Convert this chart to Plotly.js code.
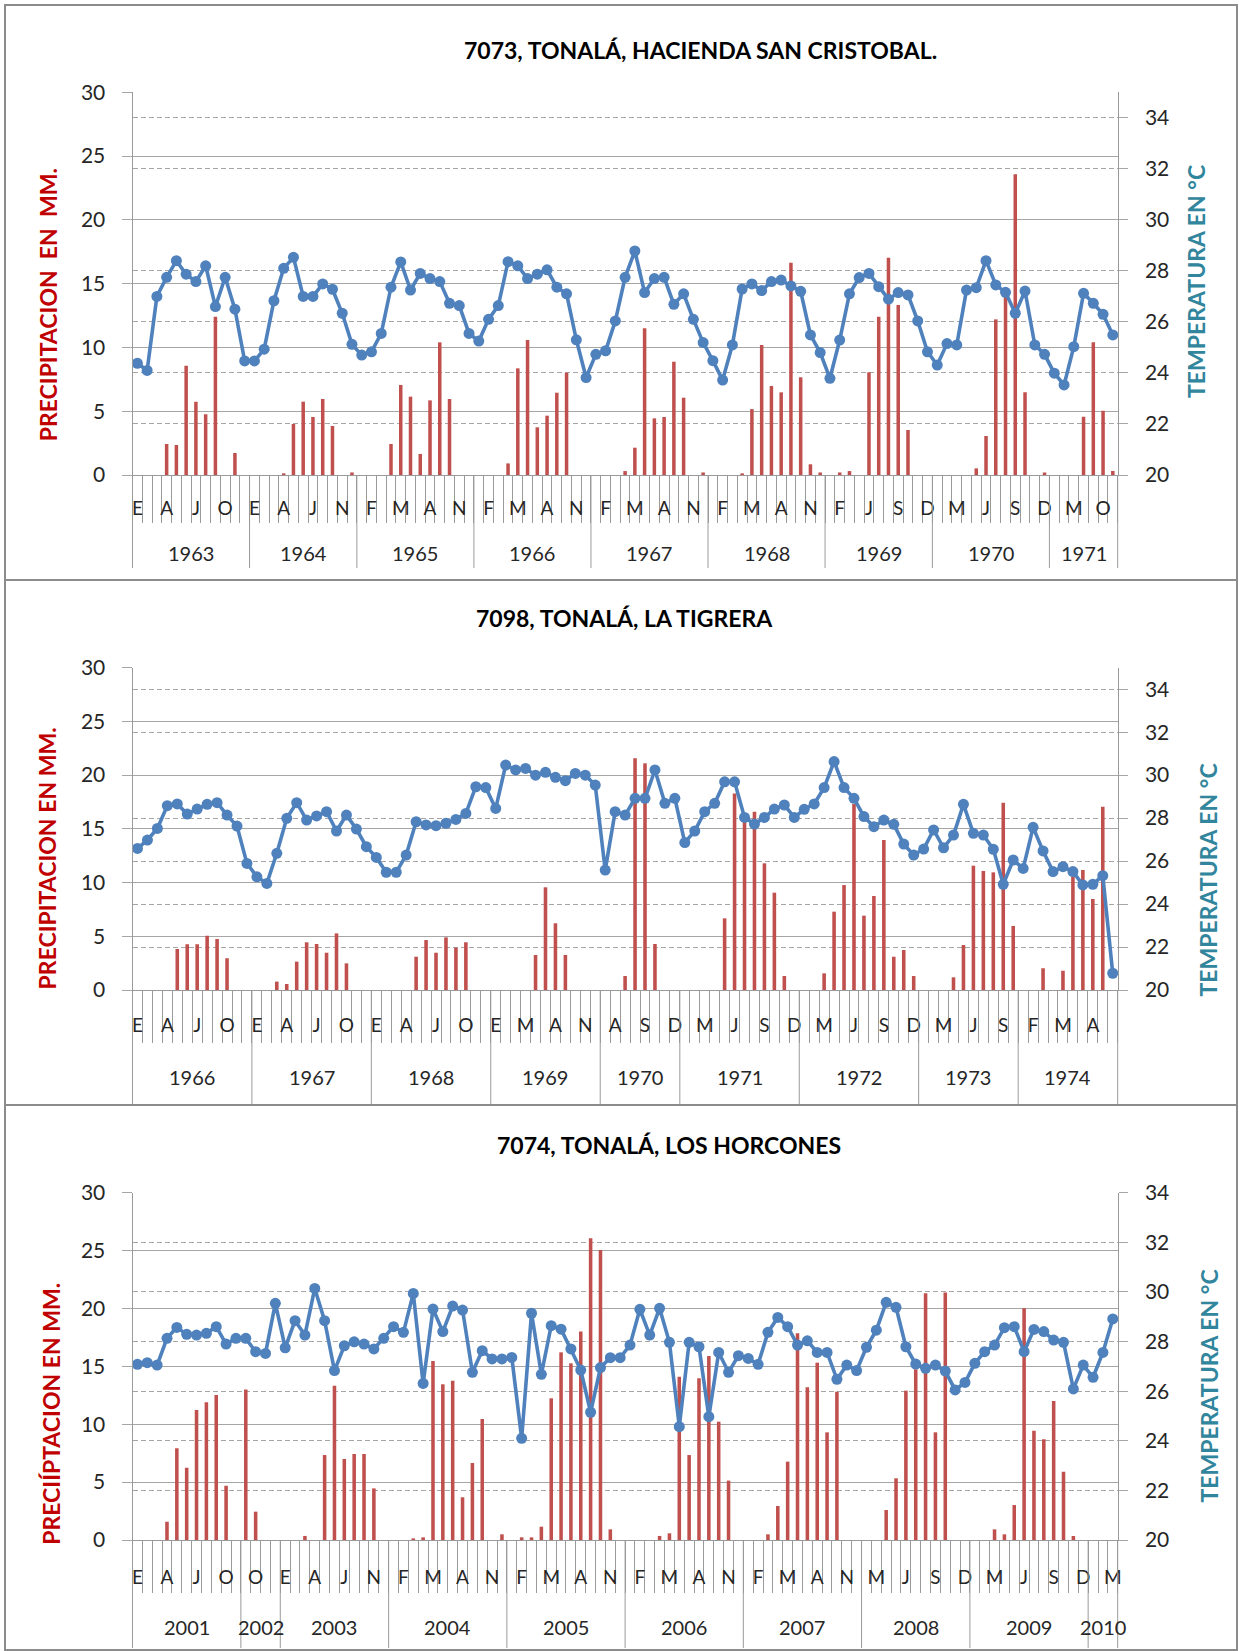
<!DOCTYPE html>
<html><head><meta charset="utf-8">
<script src="https://cdn.plot.ly/plotly-3.0.1.min.js"></script>
<style>html,body{margin:0;padding:0;background:#fff}#chart{width:1239px;height:1651px}</style>
</head><body><div id="chart"></div>
<script>
// ---------- DATA ----------
const MES = ["E","F","M","A","M","J","J","A","S","O","N","D"];
const ALL = [1,2,3,4,5,6,7,8,9,10,11,12];

// Panel 1: 7073 Hacienda San Cristobal
const title1 = "7073, TONALÁ, HACIENDA SAN CRISTOBAL.";
const ylab1 = "PRECIPITACION  EN  MM.";
const years1 = [1963,1964,1965,1966,1967,1968,1969,1970,1971];
const months1 = [ALL,[1,2,3,4,5,6,7,8,9,11,12],ALL,ALL,ALL,ALL,[1,2,3,5,6,7,8,9,10,11,12],ALL,[1,2,3,6,9,10,11]];
const precip1 = [0,0,0,2.43,2.35,8.57,5.75,4.76,12.41,0,1.72,0,
 0,0,0,0.13,4.0,5.75,4.55,5.96,3.84,0,0.2,
 0,0,0,2.43,7.06,6.14,1.65,5.85,10.4,5.96,0,0,
 0,0,0,0.91,8.36,10.58,3.74,4.65,6.45,8.02,0,0,
 0,0,0,0.31,2.14,11.5,4.44,4.55,8.88,6.06,0,0.2,
 0,0,0,0.13,5.17,10.19,6.98,6.48,16.64,7.66,0.84,0.2,
 0,0.2,0.31,0,8.05,12.41,17.04,13.33,3.53,0,0,
 0,0,0,0,0.52,3.06,12.2,14.58,23.57,6.48,0,0.2,
 0,0,0,4.57,10.4,5.04,0.31];
const temp1 = [24.38,24.1,27.0,27.75,28.4,27.87,27.58,28.2,26.6,27.75,26.5,24.47,
 24.47,24.93,26.83,28.1,28.53,27.0,27.0,27.49,27.28,26.34,25.12,
 24.7,24.83,25.55,27.36,28.35,27.25,27.9,27.7,27.58,26.73,26.64,25.55,
 25.25,26.1,26.64,28.36,28.2,27.7,27.87,28.04,27.36,27.1,25.3,23.82,
 24.73,24.87,26.04,27.75,28.78,27.15,27.7,27.75,26.69,27.1,26.1,25.19,
 24.48,23.72,25.1,27.29,27.49,27.23,27.58,27.64,27.41,27.2,25.49,24.8,
 23.79,25.29,27.1,27.74,27.9,27.38,26.89,27.15,27.06,26.04,24.83,
 24.31,25.15,25.1,27.25,27.34,28.4,27.45,27.16,26.34,27.21,25.1,24.73,
 23.99,23.53,25.03,27.12,26.73,26.3,25.49];

// Panel 2: 7098 La Tigrera
const title2 = "7098, TONALÁ, LA TIGRERA";
const ylab2 = "PRECIPITACION EN MM.";
const years2 = [1966,1967,1968,1969,1970,1971,1972,1973,1974];
const months2 = [ALL,ALL,ALL,[1,2,3,5,6,7,8,9,10,11,12],[3,4,7,8,9,10,11,12],ALL,ALL,[1,2,3,4,5,6,7,8,9,10],[1,2,3,4,5,6,7,8,9,10]];
const precip2 = [0,0,0,0,3.82,4.25,4.25,5.06,4.75,2.95,0,0,
 0,0,0.78,0.56,2.64,4.44,4.28,3.47,5.27,2.48,0,0,
 0,0,0,0,3.1,4.65,3.47,4.9,3.94,4.44,0,0,
 0,0,0,0,3.26,9.56,6.21,3.26,0,0,0,
 0,0,1.3,21.56,21.1,4.28,0,0,
 0,0,0,0,6.67,18.3,15.67,16.6,11.79,9.06,1.3,0,
 0,0,1.55,7.29,9.77,17.31,6.92,8.75,13.96,3.1,3.72,1.3,
 0,0,0,1.18,4.19,11.57,11.08,10.95,17.44,5.96,
 0,0,2.02,0,1.8,10.55,11.17,8.47,17.06,0];
const temp2 = [26.59,26.98,27.52,28.58,28.66,28.19,28.42,28.64,28.72,28.14,27.63,25.89,
 25.27,24.96,26.36,27.99,28.72,27.91,28.1,28.3,27.4,28.14,27.49,26.67,
 26.17,25.48,25.48,26.28,27.83,27.68,27.65,27.76,27.94,28.22,29.46,29.42,
 28.45,30.47,30.24,30.31,30.0,30.13,29.9,29.74,30.08,30.0,29.54,
 25.58,28.3,28.14,28.92,28.92,30.24,28.69,28.92,
 26.86,27.4,28.3,28.69,29.69,29.69,28.03,27.72,28.03,28.42,28.61,28.03,
 28.41,28.66,29.42,30.63,29.42,28.92,28.07,27.6,27.91,27.71,26.79,26.28,
 26.56,27.45,26.62,27.21,28.64,27.29,27.21,26.55,24.92,26.05,
 25.66,27.57,26.47,25.51,25.74,25.51,24.89,24.92,25.32,20.78];

// Panel 3: 7074 Los Horcones
const title3 = "7074, TONALÁ, LOS HORCONES";
const ylab3 = "PRECIÍPTACION EN MM.";
const years3 = [2001,2002,2003,2004,2005,2006,2007,2008,2009,2010];
const months3 = [[1,2,3,4,5,6,7,8,9,10,11],[9,10,11,12],[1,2,3,4,5,6,7,8,9,11,12],ALL,ALL,ALL,ALL,[2,3,4,5,6,7,8,9,10,11,12],ALL,[1,2,3]];
const precip3 = [0,0,0,1.58,7.92,6.25,11.23,11.89,12.53,4.69,0,
 13.01,2.45,0,0,
 0,0,0.35,0,7.34,13.33,7.0,7.43,7.43,4.46,0,
 0,0,0.14,0.23,15.46,13.45,13.76,3.69,6.65,10.45,0,0.49,
 0,0.23,0.23,1.15,12.24,16.21,15.26,18.0,26.06,25.05,0.92,0,
 0,0,0,0.35,0.58,14.11,7.34,13.97,15.89,10.22,5.13,0,
 0,0,0.49,2.94,6.77,17.85,13.19,15.32,9.3,12.81,0,0,
 0,0,2.59,5.33,12.9,14.74,21.31,9.3,21.39,0,0,
 0,0,0.92,0.49,3.02,20.01,9.44,8.7,12.0,5.9,0.35,0,
 0,0,0];
const temp3 = [27.08,27.15,27.05,28.13,28.57,28.29,28.26,28.33,28.6,27.9,28.13,
 28.13,27.59,27.52,29.54,
 27.75,28.84,28.26,30.14,28.84,26.83,27.83,27.99,27.9,27.7,28.13,
 28.6,28.37,29.94,26.31,29.31,28.4,29.43,29.27,26.76,27.63,27.3,27.3,
 27.36,24.1,29.14,26.68,28.64,28.5,27.7,26.85,25.15,26.95,27.35,27.35,
 27.86,29.3,28.26,29.34,27.97,24.57,27.97,27.79,24.97,27.56,26.76,27.43,
 27.32,27.08,28.37,28.97,28.6,27.86,28.03,27.56,27.56,26.48,27.05,26.83,
 27.77,28.46,29.58,29.38,27.79,27.09,26.92,27.05,26.81,26.05,26.35,
 27.12,27.59,27.86,28.56,28.6,27.59,28.49,28.4,28.06,27.97,26.09,27.05,
 26.56,27.56,28.91];

const rightLabel = "TEMPERATURA EN °C";

// ---------- LAYOUT GEOMETRY ----------
const FONT = "Lato, 'Open Sans', 'DejaVu Sans', sans-serif";
const W = 1239, H = 1651;
const PX0 = 132.5, PX1 = 1117.7;
const fx = v => v / W;
const fy = v => 1 - v / H;
const GRID = '#a6a6a6', AXL = '#9a9a9a', TXT = '#262626';

const geom = [
 {top:92.3, bot:475, tickLen:47, labStand:16, yearLineEnd:568, yearLabY:553, titleX:700, titleY:50, lTitleX:48.3, lTitleY:305, rTitleX:1196, rTitleY:282, y2max:35},
 {top:667.7, bot:990, tickLen:52, labStand:18, yearLineEnd:1105, yearLabY:1076.7, titleX:624, titleY:618, lTitleX:47.4, lTitleY:858, rTitleX:1207.5, rTitleY:880, y2max:35},
 {top:1192.7, bot:1540, tickLen:52, labStand:20, yearLineEnd:1648, yearLabY:1626.7, titleX:669, titleY:1145, lTitleX:50.8, lTitleY:1414, rTitleX:1208.5, rTitleY:1386, y2max:34}
];

const panels = [
 {title:title1, ylab:ylab1, years:years1, months:months1, precip:precip1, temp:temp1},
 {title:title2, ylab:ylab2, years:years2, months:months2, precip:precip2, temp:temp2},
 {title:title3, ylab:ylab3, years:years3, months:months3, precip:precip3, temp:temp3}
];

const traces = [];
const shapes = [];
const annotations = [];
const layout = {
  width: W, height: H,
  margin: {l:0, r:0, t:0, b:0},
  paper_bgcolor: '#fff', plot_bgcolor: '#fff',
  showlegend: false, bargap: 0.64,
  font: {family: FONT, color: TXT},
  hovermode: false
};

panels.forEach((p, k) => {
  const g = geom[k];
  const xId = k === 0 ? 'x' : 'x' + (k + 1);
  const yL = k === 0 ? 'y' : 'y' + (2 * k + 1);
  const yR = 'y' + (2 * k + 2);
  const xKey = xId.replace('x', 'xaxis');
  const yLKey = yL.replace('y', 'yaxis');
  const yRKey = yR.replace('y', 'yaxis');

  // categories
  const letters = [];
  const groups = [];
  let n = 0;
  p.years.forEach((yr, j) => {
    const start = n;
    p.months[j].forEach(m => { letters.push(MES[m - 1]); n++; });
    groups.push({year: yr, start: start, end: n - 1});
  });
  const idx = letters.map((_, i) => i);
  const tv = idx.filter(i => i % 3 === 0);
  const tt = tv.map(i => letters[i]);

  traces.push({
    type: 'bar', x: idx, y: p.precip, xaxis: xId, yaxis: yL,
    marker: {color: '#C0504D', line: {width: 0}}
  });
  traces.push({
    type: 'scatter', mode: 'lines+markers', x: idx, y: p.temp, xaxis: xId, yaxis: yR,
    line: {color: '#4F81BD', width: 3.6}, marker: {color: '#4F81BD', size: 11},
    cliponaxis: false
  });

  layout[xKey] = {
    domain: [fx(PX0), fx(PX1)], anchor: yL, range: [-0.5, n - 0.5],
    tickmode: 'array', tickvals: tv, ticktext: tt, ticks: '',
    showgrid: false, zeroline: false, showline: true, linecolor: AXL, linewidth: 1,
    tickfont: {family: FONT, size: 19, color: TXT}, ticklabelstandoff: g.labStand,
    minor: {tick0: 0.5, dtick: 1, ticks: 'outside', ticklen: g.tickLen, tickcolor: AXL, tickwidth: 1, showgrid: false},
    fixedrange: true
  };
  layout[yLKey] = {
    domain: [fy(g.bot), fy(g.top)], anchor: xId, range: [0, 30], tick0: 0, dtick: 5,
    showgrid: true, gridcolor: GRID, gridwidth: 1, zeroline: false,
    showline: true, linecolor: AXL, linewidth: 1,
    ticks: 'outside', ticklen: 10, tickcolor: GRID, tickwidth: 1,
    tickfont: {family: FONT, size: 21, color: TXT}, ticklabelstandoff: 12, fixedrange: true
  };
  layout[yRKey] = {
    overlaying: yL, anchor: xId, side: 'right', range: [20, g.y2max], tick0: 20, dtick: 2,
    showgrid: true, gridcolor: GRID, gridwidth: 1, griddash: '5px,3px', zeroline: false,
    showline: true, linecolor: AXL, linewidth: 1,
    ticks: 'outside', ticklen: 9, tickcolor: GRID, tickwidth: 1,
    tickfont: {family: FONT, size: 21, color: TXT}, ticklabelstandoff: 13, fixedrange: true
  };

  // year dividers below the axis
  groups.forEach((gr, j) => {
    if (j > 0) {
      shapes.push({type: 'line', xref: xId, yref: 'paper', x0: gr.start - 0.5, x1: gr.start - 0.5,
        y0: fy(g.bot), y1: fy(g.yearLineEnd), line: {color: AXL, width: 1}});
    }
    annotations.push({xref: xId, yref: 'paper', x: (gr.start + gr.end) / 2, y: fy(g.yearLabY),
      text: String(gr.year), showarrow: false, xanchor: 'center', yanchor: 'middle',
      font: {family: FONT, size: 20, color: TXT}});
  });
  [PX0, PX1].forEach(px => {
    shapes.push({type: 'line', xref: 'paper', yref: 'paper', x0: fx(px), x1: fx(px),
      y0: fy(g.bot), y1: fy(g.yearLineEnd), line: {color: AXL, width: 1}});
  });

  // titles
  annotations.push({xref: 'paper', yref: 'paper', x: fx(g.titleX), y: fy(g.titleY), text: p.title,
    showarrow: false, xanchor: 'center', yanchor: 'middle',
    font: {family: FONT, size: 23, color: '#000', weight: 700}});
  annotations.push({xref: 'paper', yref: 'paper', x: fx(g.lTitleX), y: fy(g.lTitleY), text: p.ylab,
    showarrow: false, xanchor: 'center', yanchor: 'middle', textangle: -90,
    font: {family: FONT, size: 23, color: '#C00000', weight: 700}});
  annotations.push({xref: 'paper', yref: 'paper', x: fx(g.rTitleX), y: fy(g.rTitleY), text: rightLabel,
    showarrow: false, xanchor: 'center', yanchor: 'middle', textangle: -90,
    font: {family: FONT, size: 23, color: '#31859C', weight: 700}});
});

// panel frames
const BORDER = '#8c8c8c';
shapes.push({type: 'rect', xref: 'paper', yref: 'paper', x0: fx(5), x1: fx(1237), y0: fy(1650), y1: fy(5),
  line: {color: BORDER, width: 2}});
[580, 1105].forEach(py => shapes.push({type: 'line', xref: 'paper', yref: 'paper',
  x0: fx(5), x1: fx(1237), y0: fy(py), y1: fy(py), line: {color: BORDER, width: 2}}));

layout.shapes = shapes;
layout.annotations = annotations;

Plotly.newPlot('chart', traces, layout, {displayModeBar: false, staticPlot: true});
</script>
</body></html>
